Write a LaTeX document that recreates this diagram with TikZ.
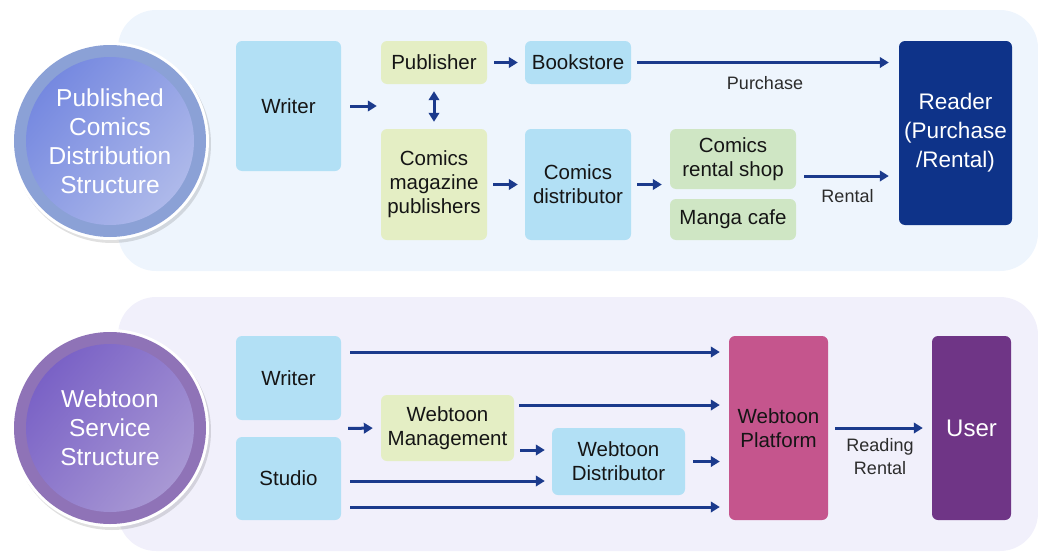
\documentclass[tikz,border=0pt]{standalone}
\usepackage{fontspec}
\setmainfont{Liberation Sans}
\usetikzlibrary{arrows.meta,calc}
\definecolor{panelA}{HTML}{EEF5FD}
\definecolor{panelB}{HTML}{F1F0FB}
\definecolor{skyfill}{HTML}{B2E0F5}
\definecolor{limefill}{HTML}{E4EEC4}
\definecolor{greenfill}{HTML}{CFE6C4}
\definecolor{navyfill}{HTML}{0E3389}
\definecolor{pinkfill}{HTML}{C5558D}
\definecolor{plumfill}{HTML}{6F3586}
\definecolor{arrowcol}{HTML}{1B3A8C}
\definecolor{ringA}{HTML}{8BA1D6}
\definecolor{discAdark}{HTML}{7689E0}
\definecolor{discAlight}{HTML}{AEB9EA}
\definecolor{ringB}{HTML}{8F73B7}
\definecolor{discBdark}{HTML}{7A62C6}
\definecolor{discBlight}{HTML}{A898D4}
\definecolor{textdark}{HTML}{151515}
\begin{document}
\begin{tikzpicture}[x=1pt,y=-1pt,
  box/.style={rounded corners=6pt, inner sep=0pt, align=center, text=textdark,
    font=\fontsize{20.5}{24}\selectfont},
  skybox/.style={box, fill=skyfill},
  limebox/.style={box, fill=limefill},
  greenbox/.style={box, fill=greenfill},
  arr/.style={draw=arrowcol, line width=3pt, -{Triangle[length=9pt,width=10.5pt]}},
  darr/.style={draw=arrowcol, line width=3pt, {Triangle[length=9pt,width=10.5pt]}-{Triangle[length=9pt,width=10.5pt]}},
  lbl/.style={text=textdark!90, align=center, font=\fontsize{18}{23}\selectfont, inner sep=0pt},
  circtext/.style={text=white, align=center, font=\fontsize{24.5}{29}\selectfont, inner sep=0pt}
]
\useasboundingbox (0,0) rectangle (1038,554);

% background panels
\fill[panelA, rounded corners=38pt] (118,10) rectangle (1038,271);
\fill[panelB, rounded corners=38pt] (118,297) rectangle (1038,551);

% section badges
\fill[black, opacity=0.12] (112,144) circle (99pt);
\fill[white] (110,141) circle (99pt);
\fill[ringA] (110,141) circle (96pt);
\shade[shading=axis, top color=discAdark, bottom color=discAlight, shading angle=50] (110,141) circle (84pt);
\node[circtext] (badgeA) at (110,141) {Published\\Comics\\Distribution\\Structure};

\fill[black, opacity=0.12] (112,431) circle (99pt);
\fill[white] (110,428) circle (99pt);
\fill[ringB] (110,428) circle (96pt);
\shade[shading=axis, top color=discBdark, bottom color=discBlight, shading angle=50] (110,428) circle (84pt);
\node[circtext] (badgeB) at (110,428) {Webtoon\\Service\\Structure};

% published comics distribution
\node[skybox, minimum width=105pt, minimum height=130pt] (pwriter) at (288.5,106) {Writer};
\node[limebox, minimum width=106pt, minimum height=43pt] (pub) at (434,62.5) {Publisher};
\node[skybox, minimum width=106pt, minimum height=43pt] (store) at (578,62.5) {Bookstore};
\node[limebox, minimum width=106pt, minimum height=111pt] (mag) at (434,184.5) {Comics\\magazine\\publishers};
\node[skybox, minimum width=106pt, minimum height=111pt] (dist) at (578,184.5) {Comics\\distributor};
\node[greenbox, minimum width=126pt, minimum height=60pt] (rental) at (733,159) {Comics\\rental shop};
\node[greenbox, minimum width=126pt, minimum height=41pt] (cafe) at (733,219.5) {Manga cafe};
\node[box, fill=navyfill, text=white, minimum width=113pt, minimum height=184pt,
  font=\fontsize{22.5}{29}\selectfont] (reader) at (955.5,133) {Reader\\(Purchase\\/Rental)};

\coordinate (rentout) at ([yshift=-17pt]rental.east);

\draw[arr, shorten <=9pt, shorten >=4pt] (pwriter.east) -- (pub.west |- pwriter.east);
\draw[arr, shorten <=7pt, shorten >=7pt] (pub.east) -- (store.west);
\draw[arr, shorten <=6pt, shorten >=10pt] (store.east) -- (reader.west |- store.east)
  node[lbl, pos=0.5, below=12pt] (purchase) {Purchase};
\draw[darr, shorten <=7pt, shorten >=7pt] (pub.south) -- (mag.north);
\draw[arr, shorten <=6pt, shorten >=7pt] (mag.east) -- (dist.west);
\draw[arr, shorten <=6pt, shorten >=8pt] (dist.east) -- (rental.west |- dist.east);
\draw[arr, shorten <=8pt, shorten >=10pt] (rentout) -- (reader.west |- rentout)
  node[lbl, pos=0.5, below=12pt] (rentlbl) {Rental};

% webtoon service
\node[skybox, minimum width=105pt, minimum height=84pt] (wwriter) at (288.5,378) {Writer};
\node[skybox, minimum width=105pt, minimum height=83pt] (studio) at (288.5,478.5) {Studio};
\node[limebox, minimum width=133pt, minimum height=66pt] (mgmt) at (447.5,428) {Webtoon\\Management};
\node[skybox, minimum width=133pt, minimum height=67pt] (wdist) at (618.5,461.5) {Webtoon\\Distributor};
\node[box, fill=pinkfill, minimum width=99pt, minimum height=184pt] (platform) at (778.5,428) {Webtoon\\Platform};
\node[box, fill=plumfill, text=white, minimum width=79pt, minimum height=184pt,
  font=\fontsize{24}{28}\selectfont] (user) at (971.5,428) {User};

\coordinate (gap) at ($(wwriter.south east)!0.5!(studio.north east)$);
\coordinate (wout) at ([yshift=26pt]wwriter.east);
\coordinate (mout) at ([yshift=23pt]mgmt.east);
\coordinate (mlow) at ([yshift=-22pt]mgmt.east);
\coordinate (sout) at ([yshift=-2.5pt]studio.east);
\coordinate (slow) at ([yshift=-28.5pt]studio.east);

\draw[arr, shorten <=9pt, shorten >=9pt] (wout) -- (platform.west |- wout);
\draw[arr, shorten <=5pt, shorten >=9pt] (mout) -- (platform.west |- mout);
\draw[arr, shorten <=7pt, shorten >=8pt] (gap) -- (mgmt.west);
\draw[arr, shorten <=6pt, shorten >=7pt] (mlow) -- (wdist.west |- mlow);
\draw[arr, shorten <=9pt, shorten >=7pt] (sout) -- (wdist.west |- sout);
\draw[arr, shorten <=8pt, shorten >=9pt] (wdist.east) -- (platform.west |- wdist.east);
\draw[arr, shorten <=9pt, shorten >=9pt] (slow) -- (platform.west |- slow);
\draw[arr, shorten <=7pt, shorten >=9pt] (platform.east) -- (user.west)
  node[lbl, pos=0.5, below=9pt] (readlbl) {Reading\\Rental};

\end{tikzpicture}
\end{document}
